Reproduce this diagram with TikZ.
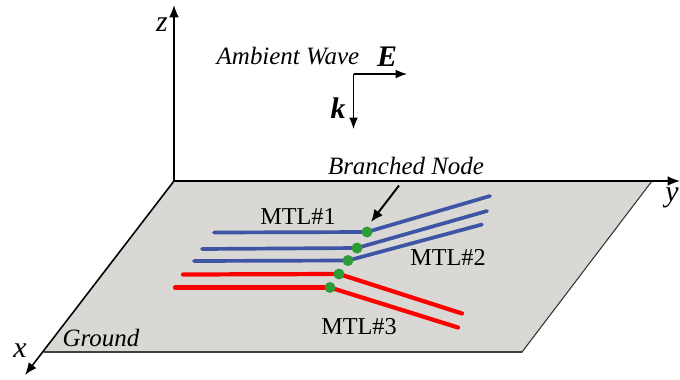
\documentclass[tikz,border=0pt]{standalone}
\usepackage{fontspec}
\setmainfont{Liberation Serif}
\usepackage{tkz-base, tkz-euclide}
\usetikzlibrary{arrows.meta, positioning}
\tikzset{
  axisline/.style={line width=.9pt, -{Latex[length=7pt,width=5.5pt]}},
  waveline/.style={line width=.6pt, -{Latex[length=6.5pt,width=5pt]}},
  bluewire/.style={line width=2.1pt, color=wireblue},
  redwire/.style={line width=2.4pt, color=red},
  lbl/.style={font=\fontsize{13.8}{15}\selectfont, inner sep=0pt},
  ilbl/.style={font=\fontsize{14.2}{16}\selectfont\itshape, inner sep=0pt},
  axlbl/.style={font=\fontsize{17}{19}\selectfont\itshape, inner sep=0pt},
  blbl/.style={font=\fontsize{17}{19}\selectfont\bfseries\itshape, inner sep=0pt}
}
\definecolor{wireblue}{RGB}{62,84,164}
\definecolor{groundgray}{RGB}{217,216,212}
\definecolor{nodegreen}{RGB}{44,155,56}
\begin{document}
\begin{tikzpicture}
  \useasboundingbox (0,0) rectangle (13.6,7.58);
  \tkzDefPoints{3.48/3.96/O, 13.04/3.96/R, 10.44/.54/S, .88/.54/T}
  \tkzDefPoints{3.48/7.48/Z, .5/.08/X, 13.6/3.96/Y}
  \tkzDrawPolygon[fill=groundgray, draw=none](O,R,S,T)
  \tkzDrawSegments[line width=.7pt, color=black!75](T,S)
  \tkzDrawSegments[line width=.6pt, color=black!80](R,S)
  \draw[axisline] (O) -- (Z);
  \draw[axisline] (O) -- (X);
  \draw[axisline] (O) -- (Y);
  % ambient wave
  \tkzDefPoints{7.07/6.1/W, 8.14/6.1/E, 7.07/5/K}
  \draw[waveline] (W) -- (E);
  \draw[waveline] (W) -- (K);
  % wires
  \tkzDefPoints{4.28/2.93/Aa, 7.34/2.94/Ab, 9.8/3.66/Ac}
  \tkzDefPoints{4.04/2.6/Ba, 7.14/2.62/Bb, 9.74/3.36/Bc}
  \tkzDefPoints{3.88/2.36/Ca, 6.96/2.37/Cb, 9.64/3.09/Cc}
  \tkzDefPoints{3.66/2.09/Da, 6.78/2.1/Db, 9.24/1.31/Dc}
  \tkzDefPoints{3.5/1.83/Ea, 6.6/1.83/Eb, 9.16/1.03/Ec}
  \tkzDrawSegments[bluewire](Aa,Ab Ab,Ac Ba,Bb Bb,Bc Ca,Cb Cb,Cc)
  \tkzDrawSegments[redwire](Da,Db Db,Dc Ea,Eb Eb,Ec)
  \foreach \p in {Ab,Bb,Cb,Db,Eb}
    \fill[nodegreen] (\p) circle (.11);
  \tkzDefPoints{7.98/3.87/Na, 7.42/3.14/Nb}
  \draw[line width=1.1pt, -{Latex[length=7pt,width=6pt]}] (Na) -- (Nb);
  % labels
  \node[axlbl] (zlabel) at (3.24,7.08) {z};
  \node[axlbl] (xlabel) at (.4,.56) {x};
  \node[axlbl] (ylabel) at (13.44,3.62) {y};
  \node[ilbl] (groundlabel) at (2.02,.82) {Ground};
  \node[ilbl] (wavelabel) at (5.76,6.46) {Ambient Wave};
  \node[blbl] (elabel) at (7.74,6.44) {E};
  \node[blbl] (klabel) at (6.76,5.42) {k};
  \node[ilbl] (branchlabel) at (8.12,4.26) {Branched Node};
  \node[lbl] (mtlone) at (5.96,3.26) {MTL\#1};
  \node[lbl] (mtltwo) at (8.96,2.44) {MTL\#2};
  \node[lbl] (mtlthree) at (7.18,1.04) {MTL\#3};
\end{tikzpicture}
\end{document}
